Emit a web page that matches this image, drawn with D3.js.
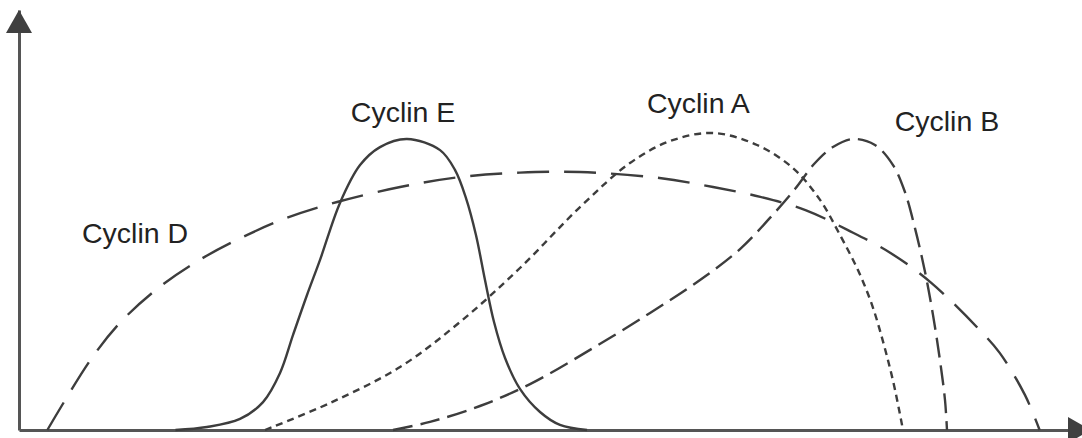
<!DOCTYPE html>
<html>
<head>
<meta charset="utf-8">
<script src="https://cdn.jsdelivr.net/npm/d3@7"></script>
<style>
  html, body { margin: 0; padding: 0; background: #fff; }
  svg { display: block; }
  text { font-family: "Liberation Sans", Arial, sans-serif; }
</style>
</head>
<body>
<svg id="chart" width="1082" height="438"></svg>
<script>
// ---- data (time in % of cycle, level in arbitrary units) ----
const cyclinD = [
  [2.7, 0], [6.8, 23.3], [9.6, 35.7], [13.4, 47.7], [17.2, 56.7], [21.3, 64.3],
  [25.5, 70.7], [30.3, 76.0], [36.3, 81.0], [42.0, 84.3], [47.7, 85.8], [53.4, 86.0],
  [61.0, 84.0], [66.1, 81.0], [70.6, 77.7], [74.9, 73.3], [78.9, 66.7], [83.0, 59.0],
  [86.8, 49.3], [91.5, 33.3], [93.4, 25.7], [95.8, 11.7], [97.2, 0]
];
const cyclinE = [
  [14.9, 0], [17.9, 1.0], [21.05, 3.7], [23.24, 9.3], [24.86, 19.0], [26.1, 31.7],
  [27.43, 45.0], [28.67, 56.7], [30.57, 75.7], [32.48, 88.3], [34.38, 94.3], [36.95, 97.0],
  [40.1, 93.3], [41.52, 86.7], [42.57, 77.3], [43.52, 65.0], [44.38, 50.0], [45.24, 36.0],
  [46.29, 24.0], [47.71, 13.7], [49.62, 6.0], [51.52, 1.7], [54.1, 0]
];
const cyclinA = [
  [23.43, 0], [29.62, 9.0], [36.29, 21.0], [42.0, 36.0], [47.71, 54.0], [53.43, 74.3],
  [58.19, 89.0], [62.0, 96.3], [66.1, 99.0], [70.29, 95.0], [73.71, 87.3], [76.29, 76.7],
  [78.19, 65.0], [79.9, 53.3], [81.24, 41.7], [82.38, 28.3], [83.33, 15.0], [84.19, 0]
];
const cyclinB = [
  [35.62, 0], [39.14, 2.7], [43.9, 8.0], [48.67, 15.3], [54.38, 26.7], [60.1, 39.0],
  [64.86, 50.0], [68.67, 60.3], [71.52, 70.7], [73.9, 80.3], [75.81, 89.0], [77.52, 94.3],
  [79.43, 97.0], [81.52, 95.0], [83.24, 88.3], [84.38, 79.3], [85.33, 67.3], [86.29, 52.7],
  [87.05, 38.3], [87.71, 23.3], [88.19, 10.0], [88.38, 0]
];
const seriesNames = ["Cyclin D", "Cyclin E", "Cyclin A", "Cyclin B"];
const seriesData = [cyclinD, cyclinE, cyclinA, cyclinB];
// label anchor (start x, baseline) in data units
const labelPos = [[6.0, 62.3], [31.6, 102.7], [59.8, 105.7], [83.4, 99.7]];

// ---- styles ----
const dashes = ["32,15", null, "7,5", "20,8"];
const ink = "#3d3d3d";

const svg = d3.select("#chart");
const x = d3.scaleLinear().domain([0, 100]).range([19, 1069]);
const y = d3.scaleLinear().domain([0, 140]).range([430, 10]);

// axes (no ticks)
svg.append("g").attr("transform", `translate(0,${y(0)})`)
  .call(d3.axisBottom(x).tickValues([]).tickSizeOuter(0));
svg.append("g").attr("transform", `translate(${x(0)},0)`)
  .call(d3.axisLeft(y).tickValues([]).tickSizeOuter(0));
svg.selectAll(".domain").attr("stroke", "#555").attr("stroke-width", 3);

// arrow heads
const yTop = y(140), xEnd = x(100);
svg.append("path")
  .attr("d", `M${x(0)},${yTop} L${x(0) - 13},${yTop + 23} L${x(0) + 13},${yTop + 23} Z`)
  .attr("fill", "#404040");
svg.append("path")
  .attr("d", `M${xEnd + 22},${y(0)} L${xEnd - 1},${y(0) - 13} L${xEnd - 1},${y(0) + 13} Z`)
  .attr("fill", "#404040");

// curves
const line = d3.line()
  .x(d => x(d[0]))
  .y(d => y(d[1]))
  .curve(d3.curveCatmullRom.alpha(0.5));

seriesData.forEach((s, i) => {
  svg.append("path")
    .datum(s)
    .attr("d", line)
    .attr("fill", "none")
    .attr("stroke", ink)
    .attr("stroke-width", 2.4)
    .attr("stroke-dasharray", dashes[i]);
});

// labels
seriesNames.forEach((name, i) => {
  svg.append("text")
    .attr("x", x(labelPos[i][0]))
    .attr("y", y(labelPos[i][1]))
    .attr("font-size", 28.5)
    .attr("fill", "#222")
    .text(name);
});
</script>
</body>
</html>
